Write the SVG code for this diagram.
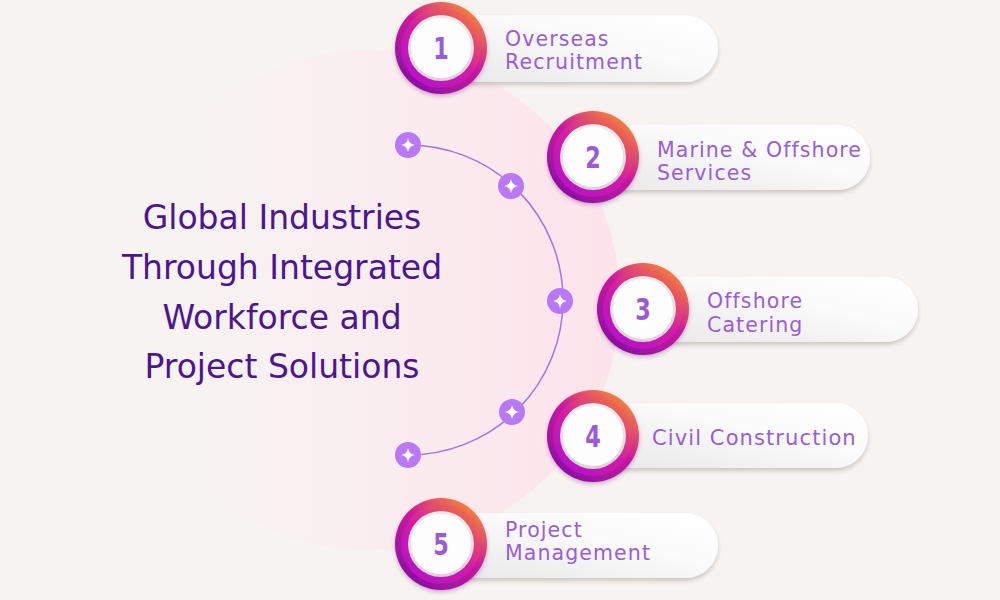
<svg xmlns="http://www.w3.org/2000/svg" xmlns:xlink="http://www.w3.org/1999/xlink" width="1000" height="600" viewBox="0 0 1000 600">
<defs>
<style>
.lbl{font-family:"DejaVu Sans","Liberation Sans",sans-serif;font-size:20.5px;letter-spacing:1.1px;fill:#9a5dd6}
.num{font-family:"DejaVu Sans Condensed","DejaVu Sans","Liberation Sans",sans-serif;font-weight:bold;font-size:31px;fill:#9b5ad6;text-anchor:middle}
.title{font-family:"DejaVu Sans","Liberation Sans",sans-serif;font-size:33px;fill:#4b168f;text-anchor:middle}
.pill{fill:url(#pillG);filter:url(#sh)}
.ringO{fill:url(#outerG)}
.ringI{fill:url(#innerG)}
.bevel{fill:url(#bevelG)}
.disc{fill:#fdfdfd}
.dot{fill:#b978f7}
.arc{fill:none;stroke:#a473e6;stroke-width:1.5}
</style>
<linearGradient id="pinkG" gradientUnits="userSpaceOnUse" x1="200" y1="0" x2="620" y2="0">
<stop offset="0" stop-color="#f7f3f1"/>
<stop offset="0.35" stop-color="#f9eef0"/>
<stop offset="1" stop-color="#fde3eb"/>
</linearGradient>
<linearGradient id="pillG" x1="0" y1="1" x2="1" y2="0">
<stop offset="0" stop-color="#e9e7e8"/>
<stop offset="0.6" stop-color="#fbfbfb"/>
<stop offset="1" stop-color="#ffffff"/>
</linearGradient>
<linearGradient id="outerG" x1="0.85" y1="0.1" x2="0.2" y2="0.95">
<stop offset="0" stop-color="#f4843a"/>
<stop offset="0.45" stop-color="#c9179f"/>
<stop offset="1" stop-color="#8b10a4"/>
</linearGradient>
<linearGradient id="innerG" x1="0.85" y1="0.1" x2="0.2" y2="0.95">
<stop offset="0" stop-color="#ef6c45"/>
<stop offset="0.5" stop-color="#d21ca6"/>
<stop offset="1" stop-color="#b512c8"/>
</linearGradient>
<linearGradient id="bevelG" x1="0" y1="0" x2="0" y2="1">
<stop offset="0" stop-color="#f2eeee"/>
<stop offset="1" stop-color="#d9d3d6"/>
</linearGradient>
<filter id="sh" x="-10%" y="-20%" width="120%" height="150%">
<feDropShadow dx="0" dy="3" stdDeviation="2" flood-color="#000" flood-opacity="0.18"/>
</filter>
<filter id="bsh" x="-20%" y="-20%" width="140%" height="140%">
<feDropShadow dx="0" dy="2" stdDeviation="2" flood-color="#5a0a70" flood-opacity="0.3"/>
</filter>
<path id="star" d="M0,-7 Q1,-1 7,0 Q1,1 0,7 Q-1,1 -7,0 Q-1,-1 0,-7 Z" fill="#ffffff"/>
</defs>
<rect width="1000" height="600" fill="#f7f3f1"/>
<circle cx="370" cy="300" r="250" fill="url(#pinkG)"/>
<g id="connectors">
<path class="arc" d="M408,145 A155,155 0 0 1 408,455"/>
<g id="dots">
<circle class="dot" cx="408" cy="145" r="13"/><use xlink:href="#star" x="408" y="145"/>
<circle class="dot" cx="511" cy="186" r="13"/><use xlink:href="#star" x="511" y="186"/>
<circle class="dot" cx="560" cy="301" r="13"/><use xlink:href="#star" x="560" y="301"/>
<circle class="dot" cx="512" cy="412" r="13"/><use xlink:href="#star" x="512" y="412"/>
<circle class="dot" cx="408" cy="455" r="13"/><use xlink:href="#star" x="408" y="455"/>
</g>
</g>
<g id="title">
<text class="title" x="282" y="229">Global Industries</text>
<text class="title" x="282" y="279">Through Integrated</text>
<text class="title" x="282" y="329">Workforce and</text>
<text class="title" x="282" y="378">Project Solutions</text>
</g>
<g id="node1">
<rect class="pill" x="441" y="15" width="277" height="67" rx="33.5"/>
<g filter="url(#bsh)"><circle class="ringO" cx="441" cy="48" r="46"/></g>
<circle class="ringI" cx="441" cy="48" r="40"/>
<circle class="bevel" cx="441" cy="48" r="33"/>
<circle class="disc" cx="441" cy="48" r="30"/>
<text class="num" transform="translate(441,59) scale(0.8,1)">1</text>
<text class="lbl" x="505" y="46">Overseas</text>
<text class="lbl" x="505" y="69">Recruitment</text>
</g>
<g id="node2">
<rect class="pill" x="593" y="125" width="277" height="65" rx="32.5"/>
<g filter="url(#bsh)"><circle class="ringO" cx="593" cy="157" r="46"/></g>
<circle class="ringI" cx="593" cy="157" r="40"/>
<circle class="bevel" cx="593" cy="157" r="33"/>
<circle class="disc" cx="593" cy="157" r="30"/>
<text class="num" transform="translate(593,168) scale(0.8,1)">2</text>
<text class="lbl" x="657" y="157">Marine &amp; Offshore</text>
<text class="lbl" x="657" y="180">Services</text>
</g>
<g id="node3">
<rect class="pill" x="643" y="277" width="275" height="65" rx="32.5"/>
<g filter="url(#bsh)"><circle class="ringO" cx="643" cy="309" r="46"/></g>
<circle class="ringI" cx="643" cy="309" r="40"/>
<circle class="bevel" cx="643" cy="309" r="33"/>
<circle class="disc" cx="643" cy="309" r="30"/>
<text class="num" transform="translate(643,320) scale(0.8,1)">3</text>
<text class="lbl" x="707" y="308">Offshore</text>
<text class="lbl" x="707" y="332">Catering</text>
</g>
<g id="node4">
<rect class="pill" x="593" y="403" width="275" height="65" rx="32.5"/>
<g filter="url(#bsh)"><circle class="ringO" cx="593" cy="436" r="46"/></g>
<circle class="ringI" cx="593" cy="436" r="40"/>
<circle class="bevel" cx="593" cy="436" r="33"/>
<circle class="disc" cx="593" cy="436" r="30"/>
<text class="num" transform="translate(593,447) scale(0.8,1)">4</text>
<text class="lbl" x="652" y="445" style="font-size:21px">Civil Construction</text>
</g>
<g id="node5">
<rect class="pill" x="441" y="513" width="277" height="65" rx="32.5"/>
<g filter="url(#bsh)"><circle class="ringO" cx="441" cy="544" r="46"/></g>
<circle class="ringI" cx="441" cy="544" r="40"/>
<circle class="bevel" cx="441" cy="544" r="33"/>
<circle class="disc" cx="441" cy="544" r="30"/>
<text class="num" transform="translate(441,555) scale(0.8,1)">5</text>
<text class="lbl" x="505" y="537">Project</text>
<text class="lbl" x="505" y="560">Management</text>
</g>
</svg>
